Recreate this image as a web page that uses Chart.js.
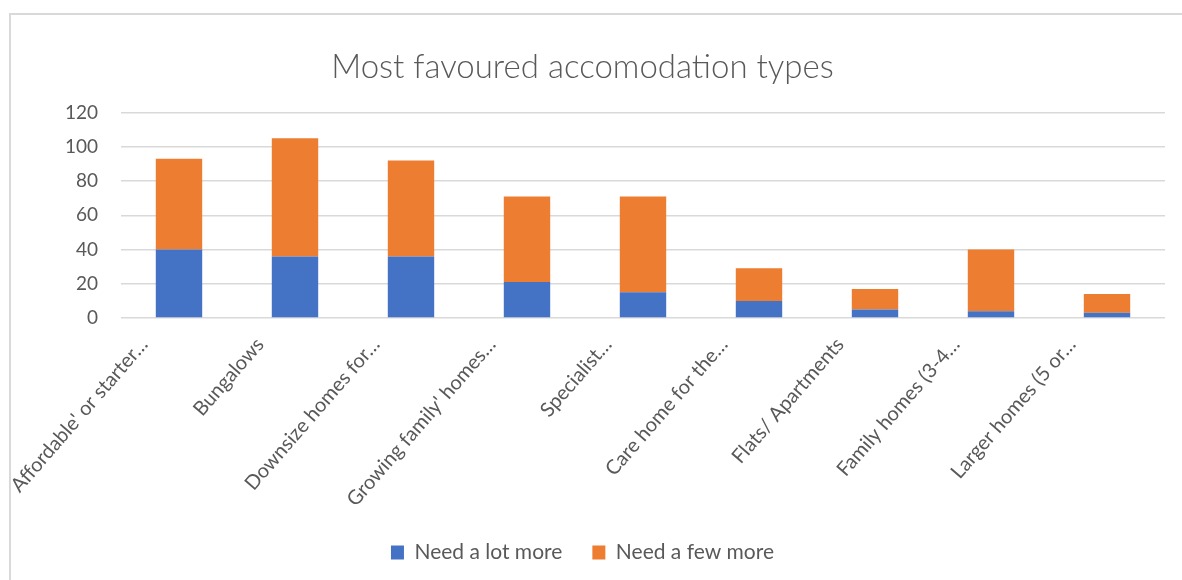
<!DOCTYPE html>
<html>
<head>
<meta charset="utf-8">
<title>Most favoured accomodation types</title>
<script src="https://cdn.jsdelivr.net/npm/chart.js@4/dist/chart.umd.min.js"></script>
<style>
    html, body { margin: 0; padding: 0; background: #ffffff; overflow: hidden; }
    body { width: 1182px; height: 580px; position: relative; }
    #frame { position: absolute; left: 9px; top: 13px; width: 1220px; height: 620px; border: 2px solid #d9d9d9; }
    #holder { position: absolute; left: 0; top: 0; width: 1167px; height: 580px; }
</style>
</head>
<body>
<div id="frame"></div>
<div id="holder"><canvas id="barChart"></canvas></div>
<script>
// accommodation types (labels already cut short, like the spreadsheet shows them)
const categories = [
    "Affordable' or starter\u2026",
    'Bungalows',
    'Downsize homes for\u2026',
    "Growing family' homes\u2026",
    'Specialist\u2026',
    'Care home for the\u2026',
    'Flats/ Apartments',
    'Family homes (3-4\u2026',
    'Larger homes (5 or\u2026'
];
const needLotMore = [40, 36, 36, 21, 15, 10, 5, 4, 3];
const needFewMore = [53, 69, 56, 50, 56, 19, 12, 36, 11];
const yTicks = [0, 20, 40, 60, 80, 100, 120];

const textGrey = '#595959';
const fontName = 'Lato';

window.onload = init

function init(){
    const data = {
        labels: categories,
        datasets: [{
            label: 'Need a lot more',
            data: needLotMore,
            backgroundColor: '#4472c4',
            borderWidth: 0
        }, {
            label: 'Need a few more',
            data: needFewMore,
            backgroundColor: '#ed7d31',
            borderWidth: 0
        }]
    };

    const config = {
        type: 'bar',
        data,
        options: {
            responsive: true,
            maintainAspectRatio: false,
            animation: false,
            barPercentage: 0.4,
            categoryPercentage: 1,
            layout: {
                padding: { top: 48, right: 2, left: 0, bottom: 7 }
            },
            plugins: {
                title: {
                    display: true,
                    text: 'Most favoured accomodation types',
                    color: textGrey,
                    font: { family: fontName, size: 33, weight: '300' },
                    padding: { top: 0, bottom: 25 }
                },
                legend: {
                    position: 'bottom',
                    labels: {
                        color: textGrey,
                        font: { family: fontName, size: 21 },
                        boxWidth: 13,
                        boxHeight: 14,
                        padding: 30
                    }
                },
                tooltip: { enabled: false }
            },
            scales: {
                x: {
                    stacked: true,
                    grid: { display: false },
                    border: { display: false },
                    ticks: {
                        color: textGrey,
                        font: { family: fontName, size: 20 },
                        autoSkip: false,
                        minRotation: 49,
                        maxRotation: 49,
                        labelOffset: -35,
                        padding: 7
                    },
                    afterFit: function(scale){
                        scale.height = 194;
                    }
                },
                y: {
                    stacked: true,
                    min: 0,
                    max: 120,
                    grid: { color: '#d9d9d9', lineWidth: 1.5, drawTicks: false },
                    border: { display: false },
                    afterBuildTicks: function(scale){
                        scale.ticks = yTicks.map(v => ({ value: v }));
                    },
                    ticks: {
                        color: textGrey,
                        font: { family: fontName, size: 19 },
                        padding: 23
                    },
                    afterFit: function(scale){
                        scale.width = 121;
                    }
                }
            }
        }
    };

    var myChart = new Chart(
        document.getElementById('barChart'),
        config
    );
}
</script>
</body>
</html>
